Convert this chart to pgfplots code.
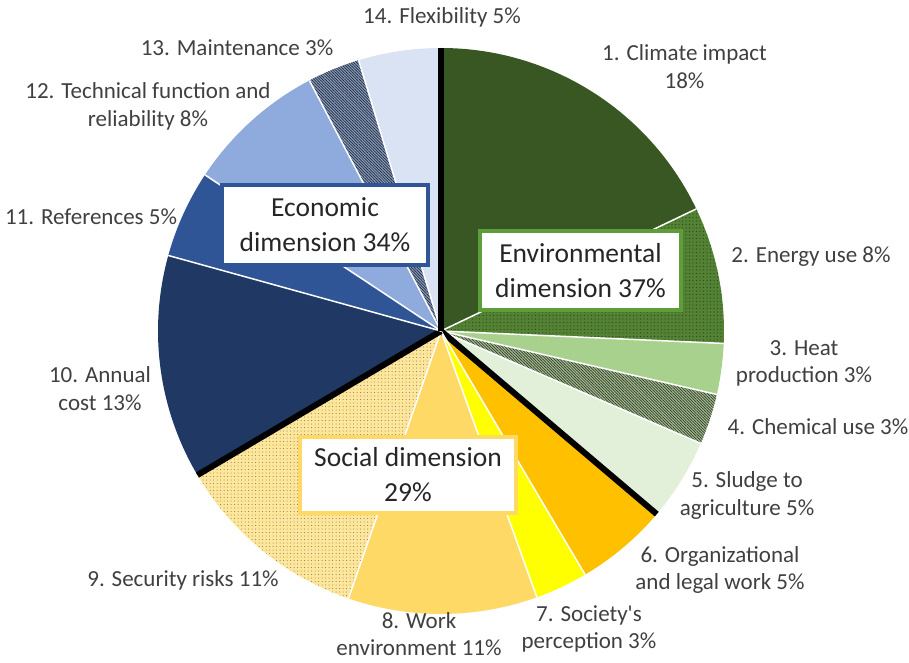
\documentclass[border=0pt]{standalone}
\usepackage{pgfplots}
\pgfplotsset{compat=1.18}
\usepackage{pgfplotstable}
\usepackage{fontspec}
\setmainfont{Carlito}
\usetikzlibrary{patterns,patterns.meta}

\definecolor{c1}{HTML}{385723}
\definecolor{c2}{HTML}{548235}
\definecolor{c3}{HTML}{A9D18E}
\definecolor{c4}{HTML}{A9B89C}
\definecolor{c5}{HTML}{E2F0D9}
\definecolor{c6}{HTML}{FFC000}
\definecolor{c7}{HTML}{FFFF00}
\definecolor{c8}{HTML}{FFD966}
\definecolor{c9}{HTML}{FFE699}
\definecolor{c10}{HTML}{203864}
\definecolor{c11}{HTML}{2F5597}
\definecolor{c12}{HTML}{8FAADC}
\definecolor{c13}{HTML}{8E9AAE}
\definecolor{c14}{HTML}{DAE3F3}
\definecolor{envbox}{HTML}{5E9E3A}
\definecolor{labeltxt}{HTML}{404040}

% share of each criterion, in percent, clockwise from the top
\pgfplotstableread{
id pct
1 17.9
2 7.8
3 2.9
4 2.9
5 4.7
6 5.3
7 3.0
8 10.8
9 11.2
10 12.8
11 5.0
12 8.0
13 3.0
14 4.7
}\piedata

\tikzset{
  s0/.style={fill=c1},
  s1/.style={fill=c2, postaction={pattern={Dots[radius=0.6pt,distance=3.5pt]}, pattern color=c1!80!black}},
  s2/.style={fill=c3},
  s3/.style={fill=c4, postaction={pattern={Lines[angle=-45,distance=2pt,line width=0.7pt]}, pattern color=c1!75!black}},
  s4/.style={fill=c5},
  s5/.style={fill=c6},
  s6/.style={fill=c7},
  s7/.style={fill=c8},
  s8/.style={fill=c9, postaction={pattern={Dots[radius=0.5pt,distance=3.5pt]}, pattern color=black!55}},
  s9/.style={fill=c10},
  s10/.style={fill=c11},
  s11/.style={fill=c12},
  s12/.style={fill=c13, postaction={pattern={Lines[angle=-45,distance=2pt,line width=0.7pt]}, pattern color=c10!80!black}},
  s13/.style={fill=c14},
  b0/.style={white, line width=1.5pt}, b1/.style={b0}, b2/.style={b0}, b3/.style={b0},
  b4/.style={black, line width=6pt}, b5/.style={b0}, b6/.style={b0}, b7/.style={b0},
  b8/.style={b4}, b9/.style={b0}, b10/.style={b0}, b11/.style={b0}, b12/.style={b0},
  b13/.style={b4},
  lab/.style={font=\fontsize{23}{27.5}\selectfont, text=labeltxt, align=center, inner sep=1pt},
  dim/.style={fill=white, align=center, text=black!85, font=\fontsize{27.5}{35}\selectfont},
}

\begin{document}
\begin{tikzpicture}
\begin{axis}[width=909pt, height=662pt, scale only axis,
  xmin=0, xmax=909, ymin=0, ymax=662, hide axis, clip=false]

% slices
\def\cum{90}
\pgfplotsinvokeforeach{0,...,13}{
  \pgfplotstablegetelem{#1}{pct}\of\piedata
  \pgfmathsetmacro\aend{\cum-3.6*\pgfplotsretval}
  \edef\temp{\noexpand\fill[s#1] (axis cs:441,331) -- ++(\cum:283pt)
    arc[start angle=\cum, end angle=\aend, radius=283pt] -- cycle;}
  \temp
  \xdef\cum{\aend}
}
% borders between slices, thick ones between dimensions
\xdef\cum{90}
\pgfplotsinvokeforeach{0,...,13}{
  \pgfplotstablegetelem{#1}{pct}\of\piedata
  \pgfmathsetmacro\aend{\cum-3.6*\pgfplotsretval}
  \edef\temp{\noexpand\draw[b#1] (axis cs:441,331) -- ++(\aend:283pt);}
  \temp
  \xdef\cum{\aend}
}

\node[dim, draw=envbox, line width=4pt, minimum width=201pt, minimum height=79pt]
  at (axis cs:580.5,391.5) {Environmental\\dimension 37\%};
\node[dim, draw=c11, line width=3.5pt, minimum width=206pt, minimum height=80pt]
  at (axis cs:325,437) {Economic\\dimension 34\%};
\node[dim, draw=c8, line width=4pt, minimum width=216pt, minimum height=76pt]
  at (axis cs:408,187) {Social dimension\\29\%};

\node[lab] at (axis cs:684.5,595.5) {1. Climate impact\\18\%};
\node[lab] at (axis cs:811,405) {2. Energy use 8\%};
\node[lab] at (axis cs:804,298.5) {3. Heat\\production 3\%};
\node[lab] at (axis cs:818,235) {4. Chemical use 3\%};
\node[lab] at (axis cs:747,166.5) {5. Sludge to\\agriculture 5\%};
\node[lab] at (axis cs:720,92) {6. Organizational\\and legal work 5\%};
\node[lab] at (axis cs:589,33) {7. Society\textquotesingle s\\perception 3\%};
\node[lab] at (axis cs:419,28) {8. Work\\environment 11\%};
\node[lab] at (axis cs:183,82) {9. Security risks 11\%};
\node[lab] at (axis cs:100,273.5) {10. Annual\\cost 13\%};
\node[lab] at (axis cs:91,445) {11. References 5\%};
\node[lab] at (axis cs:148,555.5) {12. Technical function and\\reliability 8\%};
\node[lab] at (axis cs:237,614) {13. Maintenance 3\%};
\node[lab] at (axis cs:442,645) {14. Flexibility 5\%};
\end{axis}
\pgfresetboundingbox
\path (current axis.south west) rectangle (current axis.north east);
\end{tikzpicture}
\end{document}
